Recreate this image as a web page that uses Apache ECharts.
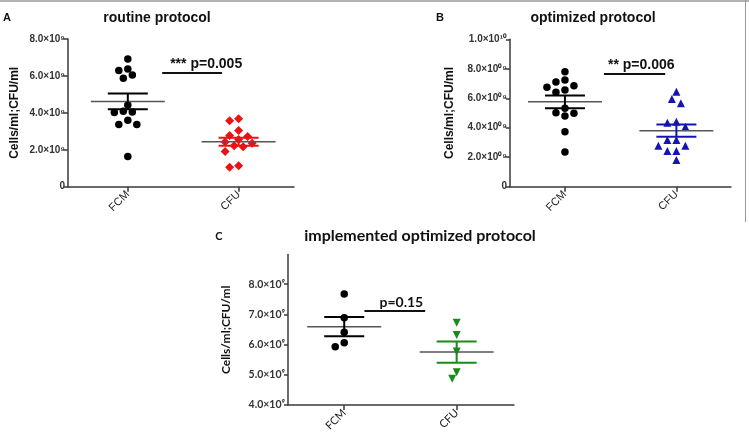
<!DOCTYPE html>
<html><head><meta charset="utf-8">
<script src="https://cdn.jsdelivr.net/npm/echarts@6/dist/echarts.min.js"></script>
<style>html,body{margin:0;padding:0;background:#fff}#c{width:749px;height:447px}</style>
</head><body><div id="c"></div>
<script>
// ---------------- data (values in units of 10^9 cells/ml or CFU/ml) ----------------
const categories = ['FCM', 'CFU'];
const panelLetters = ['A', 'B', 'C'];
const panelTitles = ['routine protocol', 'optimized protocol', 'implemented optimized protocol'];
const yAxisName = 'Cells/ml;CFU/ml';

const routineFCM = [6.92, 6.38, 6.30, 6.05, 5.87, 4.42, 4.08, 4.04, 4.02, 3.60, 3.37, 3.37, 1.63];
const routineCFU = [3.68, 3.57, 3.04, 2.77, 2.72, 2.55, 2.42, 2.36, 2.22, 2.17, 1.90, 1.14, 1.05];
const optimizedFCM = [7.80, 7.24, 7.10, 6.85, 6.74, 6.56, 6.40, 5.32, 5.02, 4.98, 4.80, 3.73, 2.35];
const optimizedCFU = [6.45, 5.95, 5.66, 4.41, 4.34, 4.07, 3.17, 3.17, 2.78, 2.78, 2.42, 2.42, 1.81];
const implementedFCM = [7.67, 6.89, 6.41, 6.06, 5.93];
const implementedCFU = [6.72, 6.32, 5.77, 5.08, 4.87];

const yTicksA = [0, 2, 4, 6, 8];
const yTickLabelsA = ['0', '2.0×10⁹', '4.0×10⁹', '6.0×10⁹', '8.0×10⁹'];
const yTicksB = [0, 2, 4, 6, 8, 10];
const yTickLabelsB = ['0', '2.0×10⁰⁹', '4.0×10⁰⁹', '6.0×10⁰⁹', '8.0×10⁰⁹', '1.0×10¹⁰'];
const yTicksC = [4, 5, 6, 7, 8];
const yTickLabelsC = ['4.0×10⁹', '5.0×10⁹', '6.0×10⁹', '7.0×10⁹', '8.0×10⁹'];

const pLabels = ['*** p=0.005', '** p=0.006', 'p=0.15'];
const pBarLevels = [6.16, 7.65, 7.11];
const pBarStart = [1.31, 1.35, 1.18];
const pBarEnd = [1.85, 1.90, 1.72];

// ---------------- styling ----------------
const SANS = '"Liberation Sans", Arial, sans-serif';
const CAL = 'Lato, "Open Sans", sans-serif';
const AXIS_COLOR = '#3a3a3a';
const MEAN_HALF = 37, SEM_HALF = 20;
const STEP = 4.5, MIN_DIST = 7.5;

const panels = [
  { fcm: routineFCM, cfu: routineCFU, yMin: 0, yMax: 8, ticks: yTicksA, labels: yTickLabelsA,
    grid: { left: 68, top: 39, width: 226, height: 147.7 }, xMin: 0.46, xMax: 2.5,
    cfuColor: '#ee1111', cfuSymbol: 'diamond', cfuRotate: 0, cfuSize: 9, font: SANS, nameGap: 47, labelSize: 10, pOff: 8, pSize: 14 },
  { fcm: optimizedFCM, cfu: optimizedCFU, yMin: 0, yMax: 10, ticks: yTicksB, labels: yTickLabelsB,
    grid: { left: 510, top: 39.3, width: 221, height: 147.4 }, xMin: 0.507, xMax: 2.49,
    cfuColor: '#1414b4', cfuSymbol: 'triangle', cfuRotate: 0, cfuSize: 8, font: SANS, nameGap: 54, labelSize: 10, pOff: 4, pSize: 14 },
  { fcm: implementedFCM, cfu: implementedCFU, yMin: 4, yMax: 8.98, ticks: yTicksC, labels: yTickLabelsC,
    grid: { left: 288, top: 254.5, width: 226, height: 150.5 }, xMin: 0.5, xMax: 2.51,
    cfuColor: '#1a8a1a', cfuSymbol: 'triangle', cfuRotate: 180, cfuSize: 8, font: CAL, nameGap: 56, labelSize: 10.5, pOff: 15, pSize: 14 }
];

function mean(a) { return a.reduce((s, v) => s + v, 0) / a.length; }
function sem(a) { const m = mean(a); const sd = Math.sqrt(a.reduce((s, v) => s + (v - m) * (v - m), 0) / (a.length - 1)); return sd / Math.sqrt(a.length); }

const chart = echarts.init(document.getElementById('c'), null, { renderer: 'canvas' });

function buildOption(xs) {
  const grids = [], xAxes = [], yAxes = [], series = [];
  panels.forEach((p, i) => {
    grids.push(Object.assign({ containLabel: false }, p.grid));
    xAxes.push({
      type: 'value', gridIndex: i, min: p.xMin, max: p.xMax,
      axisLine: { show: true, onZero: false, lineStyle: { color: AXIS_COLOR, width: 1.5 } },
      axisTick: { show: true, customValues: [1, 2], length: 5, lineStyle: { color: AXIS_COLOR, width: 1.5 } },
      axisLabel: { show: true, customValues: [1, 2], formatter: v => categories[Math.round(v) - 1], rotate: 45, fontSize: 11, color: '#222', fontFamily: p.font, margin: 6 },
      splitLine: { show: false }
    });
    yAxes.push({
      type: 'value', gridIndex: i, min: p.yMin, max: p.yMax,
      axisLine: { show: true, onZero: false, lineStyle: { color: AXIS_COLOR, width: 1.5 } },
      axisTick: { show: true, customValues: p.ticks, length: 4, lineStyle: { color: AXIS_COLOR, width: 1.5 } },
      axisLabel: { show: true, customValues: p.ticks, formatter: v => p.labels[p.ticks.indexOf(Math.round(v))], fontSize: p.labelSize, fontWeight: 'bold', color: '#333', fontFamily: p.font, margin: 3 },
      splitLine: { show: false },
      name: yAxisName, nameLocation: 'middle', nameRotate: 90, nameGap: p.nameGap,
      nameTextStyle: { fontSize: 12, fontWeight: 'bold', color: '#111', fontFamily: p.font }
    });
    series.push({
      type: 'scatter', xAxisIndex: i, yAxisIndex: i, symbol: 'circle', symbolSize: 7.5,
      itemStyle: { color: '#000', opacity: 1 }, z: 2,
      data: p.fcm.map((v, k) => [xs ? xs[i][0][k] : 1, v])
    });
    series.push({
      type: 'scatter', xAxisIndex: i, yAxisIndex: i, symbol: p.cfuSymbol, symbolSize: p.cfuSize, symbolRotate: p.cfuRotate,
      itemStyle: { color: p.cfuColor, opacity: 1 }, z: 2,
      data: p.cfu.map((v, k) => [xs ? xs[i][1][k] : 2, v])
    });
    const colors = ['#000', p.cfuColor];
    series.push({
      type: 'custom', xAxisIndex: i, yAxisIndex: i, z: 5, silent: true,
      data: [[1, mean(p.fcm), sem(p.fcm)], [2, mean(p.cfu), sem(p.cfu)]],
      renderItem: (params, api) => {
        const x = api.value(0), m = api.value(1), s = api.value(2);
        const c = api.coord([x, m]), t = api.coord([x, m + s]), b = api.coord([x, m - s]);
        const col = colors[params.dataIndex];
        return { type: 'group', children: [
          { type: 'line', shape: { x1: c[0] - MEAN_HALF, y1: c[1], x2: c[0] + MEAN_HALF, y2: c[1] }, style: { stroke: '#555', lineWidth: 1.5 } },
          { type: 'line', shape: { x1: t[0], y1: t[1], x2: b[0], y2: b[1] }, style: { stroke: col, lineWidth: 2 } },
          { type: 'line', shape: { x1: t[0] - SEM_HALF, y1: t[1], x2: t[0] + SEM_HALF, y2: t[1] }, style: { stroke: col, lineWidth: 2 } },
          { type: 'line', shape: { x1: b[0] - SEM_HALF, y1: b[1], x2: b[0] + SEM_HALF, y2: b[1] }, style: { stroke: col, lineWidth: 2 } }
        ] };
      }
    });
    series.push({
      type: 'custom', xAxisIndex: i, yAxisIndex: i, z: 5, silent: true,
      data: [[pBarStart[i], pBarEnd[i], pBarLevels[i]]],
      renderItem: (params, api) => {
        const a = api.coord([api.value(0), api.value(2)]), b = api.coord([api.value(1), api.value(2)]);
        return { type: 'group', children: [
          { type: 'line', shape: { x1: a[0], y1: a[1], x2: b[0], y2: b[1] }, style: { stroke: '#111', lineWidth: 2 } },
          { type: 'text', x: a[0] + p.pOff, y: a[1] - 1.5, style: { text: pLabels[i], fill: '#111', fontSize: p.pSize, fontWeight: 'bold', fontFamily: p.font, align: 'left', verticalAlign: 'bottom' } }
        ] };
      }
    });
  });
  const titleCenters = [[157, 18], [593, 18], [420, 236]];
  const letterPos = [[7, 18], [440, 18], [219, 236]];
  const graphic = [
    { type: 'line', shape: { x1: 0, y1: 1, x2: 749, y2: 1 }, style: { stroke: '#999', lineWidth: 1.5 } },
    { type: 'line', shape: { x1: 745.5, y1: 0, x2: 745.5, y2: 222 }, style: { stroke: '#999', lineWidth: 1 } }
  ];
  panels.forEach((p, i) => {
    graphic.push({ type: 'text', x: titleCenters[i][0], y: titleCenters[i][1], style: { text: panelTitles[i], fill: '#111', fontSize: i === 2 ? 16 : 14, fontWeight: 'bold', fontFamily: p.font, align: 'center', verticalAlign: 'middle' } });
    graphic.push({ type: 'text', x: letterPos[i][0], y: letterPos[i][1], style: { text: panelLetters[i], fill: '#111', fontSize: 11, fontWeight: 'bold', fontFamily: p.font, align: 'center', verticalAlign: 'middle' } });
  });
  return { animation: false, backgroundColor: '#fff', grid: grids, xAxis: xAxes, yAxis: yAxes, series, graphic };
}

chart.setOption(buildOption(null));

function swarm(values, gi, center) {
  const order = values.map((v, k) => k).sort((a, b) => values[b] - values[a]);
  const unit = chart.convertToPixel({ gridIndex: gi }, [center + 1, 0])[0] - chart.convertToPixel({ gridIndex: gi }, [center, 0])[0];
  const placed = [], xs = new Array(values.length);
  order.forEach(k => {
    const py = chart.convertToPixel({ gridIndex: gi }, [center, values[k]])[1];
    for (let j = 0; j < 40; j++) {
      const off = j === 0 ? 0 : (j % 2 ? -1 : 1) * Math.ceil(j / 2) * STEP;
      if (placed.every(q => Math.hypot(q[0] - off, q[1] - py) >= MIN_DIST)) {
        placed.push([off, py]); xs[k] = center + off / unit; break;
      }
    }
  });
  return xs;
}
const xsAll = panels.map((p, i) => [swarm(p.fcm, i, 1), swarm(p.cfu, i, 2)]);
chart.setOption(buildOption(xsAll), true);
</script></body></html>
